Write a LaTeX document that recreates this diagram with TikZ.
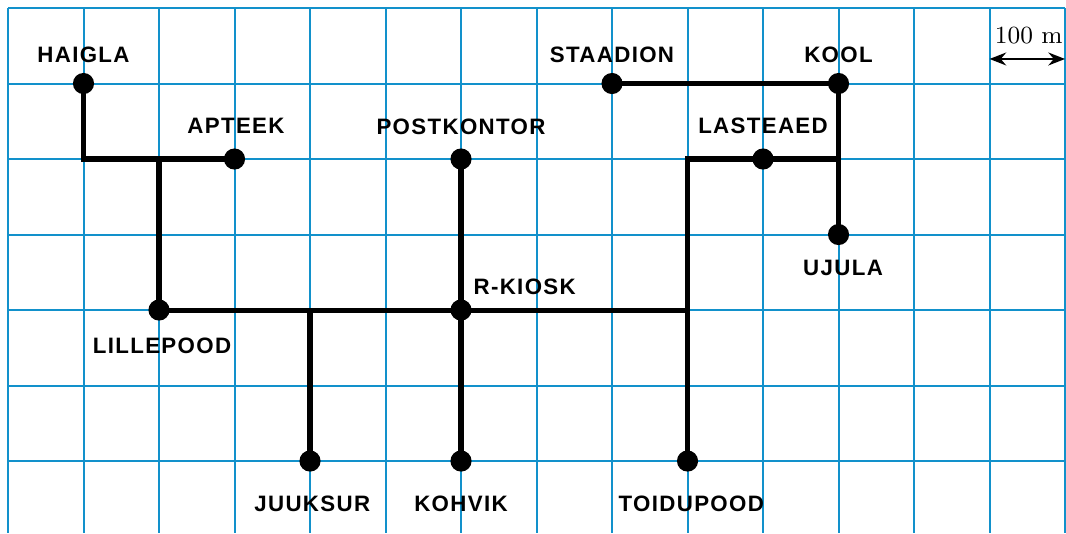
\documentclass[tikz,border=0pt]{standalone}
\usepackage{fontspec}
\newfontfamily\lblfont[LetterSpace=6]{Liberation Sans}
\usetikzlibrary{positioning,arrows.meta}
\definecolor{gridblue}{RGB}{18,145,203}
\begin{document}
\begin{tikzpicture}[
  dot/.style={circle, fill=black, inner sep=0pt, minimum size=0.28cm},
  place/.style={inner sep=0pt, font=\lblfont\bfseries\fontsize{8.4pt}{10pt}\selectfont},
  road/.style={line width=1.9pt, black},
  gridline/.style={gridblue, line width=0.75pt}
]
\useasboundingbox (-0.106,0.106) rectangle (14.013,-6.954);

% grid, one square = 100 m
\foreach \i in {0,...,14}
  \draw[gridline] (\i,0) -- (\i,-6.954);
\foreach \j in {0,...,6}
  \draw[gridline] (0,-\j) -- (14,-\j);

% street corners
\coordinate (haiglanurk) at (2,-2);
\coordinate (juuksurnurk) at (4,-4);
\coordinate (turunurk) at (9,-4);
\coordinate (koolinurk) at (11,-2);

% places
\node[dot] (haigla) at (1,-1) {};
\node[dot] (apteek) at (3,-2) {};
\node[dot] (postkontor) at (6,-2) {};
\node[dot] (staadion) at (8,-1) {};
\node[dot] (kool) at (11,-1) {};
\node[dot] (lasteaed) at (10,-2) {};
\node[dot] (ujula) at (11,-3) {};
\node[dot] (lillepood) at (2,-4) {};
\node[dot] (rkiosk) at (6,-4) {};
\node[dot] (juuksur) at (4,-6) {};
\node[dot] (kohvik) at (6,-6) {};
\node[dot] (toidupood) at (9,-6) {};

% streets
\draw[road] (haigla.center) |- (apteek.center);
\draw[road] (haiglanurk) -- (lillepood.center);
\draw[road] (lillepood.center) -- (turunurk);
\draw[road] (juuksurnurk) -- (juuksur.center);
\draw[road] (postkontor.center) -- (kohvik.center);
\draw[road] (toidupood.center) |- (koolinurk);
\draw[road] (staadion.center) -- (kool.center);
\draw[road] (kool.center) -- (ujula.center);

% names
\node[place, above of=haigla, node distance=0.38cm] (haiglanimi) {HAIGLA};
\node[place, above of=apteek, node distance=0.44cm, xshift=0.02cm] (apteeknimi) {APTEEK};
\node[place, above of=postkontor, node distance=0.43cm] (postkontornimi) {POSTKONTOR};
\node[place, above of=staadion, node distance=0.38cm] (staadionnimi) {STAADION};
\node[place, above of=kool, node distance=0.38cm] (koolnimi) {KOOL};
\node[place, above of=lasteaed, node distance=0.44cm] (lasteaednimi) {LASTEAED};
\node[place, below of=ujula, node distance=0.44cm, xshift=0.06cm] (ujulanimi) {UJULA};
\node[place, anchor=south west] (rkiosknimi) at (6.16,-3.8) {R-KIOSK};
\node[place, below of=lillepood, node distance=0.48cm, xshift=0.04cm] (lillepoodnimi) {LILLEPOOD};
\node[place, below of=juuksur, node distance=0.57cm, xshift=0.03cm] (juuksurnimi) {JUUKSUR};
\node[place, below of=kohvik, node distance=0.57cm] (kohviknimi) {KOHVIK};
\node[place, below of=toidupood, node distance=0.57cm, xshift=0.05cm] (toidupoodnimi) {TOIDUPOOD};

% scale
\coordinate (skaalaA) at (13,-0.675);
\coordinate (skaalaB) at (14,-0.675);
\node[inner sep=0pt, anchor=base, font=\fontsize{9.3pt}{11pt}\selectfont] (skaala) at (13.52,-0.464) {100 m};
\draw[{Stealth[length=0.22cm,width=0.17cm]}-{Stealth[length=0.22cm,width=0.17cm]}, line width=1pt] (skaalaA) -- (skaalaB);
\end{tikzpicture}
\end{document}
